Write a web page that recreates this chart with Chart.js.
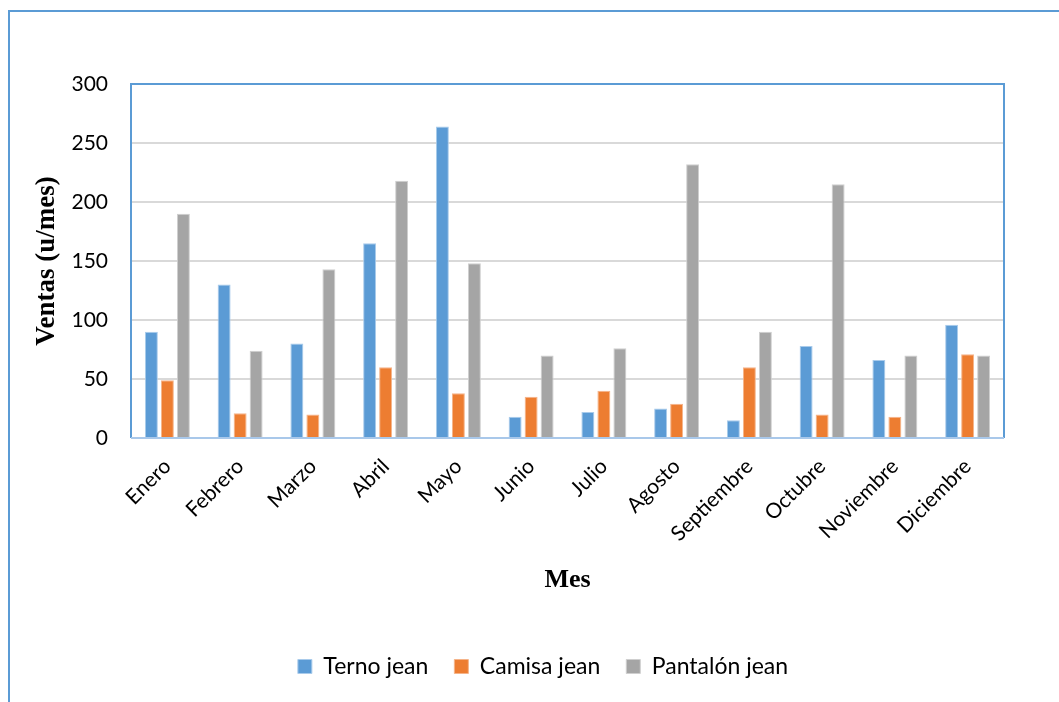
<!DOCTYPE html>
<html>
<head>
<meta charset="utf-8">
<script src="https://cdn.jsdelivr.net/npm/chart.js@4.4.0/dist/chart.umd.min.js"></script>
<style>
  html, body { margin: 0; padding: 0; background: #fff; }
  #wrap { width: 1059px; height: 702px; position: relative; }
</style>
</head>
<body>
<div id="wrap"><canvas id="ventasChart" width="1059" height="702"></canvas></div>
<script>
// Data
const meses = ['Enero', 'Febrero', 'Marzo', 'Abril', 'Mayo', 'Junio', 'Julio', 'Agosto', 'Septiembre', 'Octubre', 'Noviembre', 'Diciembre'];
const ternoJean = [90, 130, 80, 165, 264, 18, 22, 25, 15, 78, 66, 96];
const camisaJean = [49, 21, 20, 60, 38, 35, 40, 29, 60, 20, 18, 71];
const pantalonJean = [190, 74, 143, 218, 148, 70, 76, 232, 90, 215, 70, 70];
const yTicks = [0, 50, 100, 150, 200, 250, 300];

const ctx = document.getElementById('ventasChart').getContext('2d');

// Outer chart border (runs off the right and bottom edges) and plot frame
const framePlugin = {
    id: 'frame',
    afterLayout(chart) {
        // the legend sits centred on the whole chart box, not on the padded area
        chart.legend.left += 41;
        chart.legend.right += 41;
    },
    beforeDraw(chart) {
        const c = chart.ctx;
        c.save();
        c.fillStyle = '#fff';
        c.fillRect(0, 0, chart.width, chart.height);
        c.strokeStyle = '#5B9BD5';
        c.lineWidth = 2;
        c.strokeRect(9, 11, 1200, 1000);
        c.restore();
    },
    afterDatasetsDraw(chart) {
        const { left, right, top, bottom } = chart.chartArea;
        const c = chart.ctx;
        c.save();
        c.lineWidth = 2;
        c.strokeStyle = '#5B9BD5';
        c.beginPath();
        c.moveTo(left, bottom);
        c.lineTo(left, top);
        c.lineTo(right, top);
        c.lineTo(right, bottom);
        c.stroke();
        c.strokeStyle = '#A9C8EA';
        c.beginPath();
        c.moveTo(left, bottom);
        c.lineTo(right, bottom);
        c.stroke();
        c.restore();
    }
};

const sans = 'Lato, "Open Sans", sans-serif';
const serif = '"Liberation Serif", "DejaVu Serif", serif';

new Chart(ctx, {
    type: 'bar',
    data: {
        labels: meses,
        datasets: [
            { label: 'Terno jean', data: ternoJean, backgroundColor: '#5B9BD5', borderColor: '#A9CBEB', borderWidth: 1 },
            { label: 'Camisa jean', data: camisaJean, backgroundColor: '#ED7D31', borderColor: '#F5B48A', borderWidth: 1 },
            { label: 'Pantalón jean', data: pantalonJean, backgroundColor: '#A5A5A5', borderColor: '#CFCFCF', borderWidth: 1 }
        ]
    },
    options: {
        responsive: false,
        animation: false,
        layout: { padding: { left: 0, top: 84, right: 55, bottom: 14 } },
        datasets: {
            bar: { categoryPercentage: 0.66, barPercentage: 0.81 }
        },
        plugins: {
            legend: {
                position: 'bottom',
                labels: {
                    boxWidth: 14,
                    boxHeight: 14,
                    padding: 26,
                    color: '#000',
                    font: { family: sans, size: 23 }
                }
            },
            tooltip: { enabled: false }
        },
        scales: {
            x: {
                grid: { display: false },
                border: { display: false },
                ticks: {
                    autoSkip: false,
                    minRotation: 45,
                    maxRotation: 45,
                    padding: 8,
                    color: '#000',
                    font: { family: sans, size: 21 }
                },
                title: {
                    display: true,
                    text: 'Mes',
                    color: '#000',
                    padding: { top: 0, bottom: 33 },
                    font: { family: serif, size: 26, weight: 'bold' }
                },
                afterFit(scale) { scale.height = 191; }
            },
            y: {
                min: 0,
                max: 300,
                afterBuildTicks(scale) { scale.ticks = yTicks.map(v => ({ value: v })); },
                grid: { color: '#D9D9D9', lineWidth: 2, drawTicks: false },
                border: { display: false },
                ticks: {
                    padding: 23,
                    color: '#000',
                    font: { family: sans, size: 21 }
                },
                title: {
                    display: true,
                    text: 'Ventas (u/mes)',
                    color: '#000',
                    padding: { top: 31, bottom: 0 },
                    font: { family: serif, size: 27, weight: 'bold' }
                },
                afterFit(scale) { scale.width = 131; }
            }
        }
    },
    plugins: [framePlugin]
});
</script>
</body>
</html>
